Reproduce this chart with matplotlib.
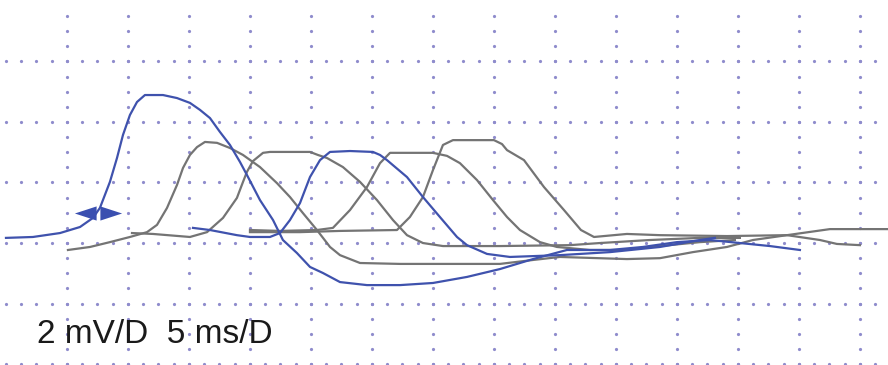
import numpy as np
import matplotlib
matplotlib.use("Agg")
import matplotlib.pyplot as plt
from matplotlib.path import Path

# ---- Data (time in ms, amplitude in mV) ----
blue_a_t = [0, 2.21, 4.43, 6.07, 7.13, 7.70, 8.52, 9.10, 9.59, 10.16, 10.74, 11.39, 12.87, 14.02,
            15.08, 15.90, 16.72, 17.54, 18.36, 19.18, 19.75, 20.82, 21.89, 22.70, 23.85, 24.92,
            25.98, 27.38, 29.59, 32.30, 35.0, 37.79, 40.49, 43.20, 45.98, 49.51, 52.21, 55.0,
            57.70, 60.16, 62.62, 65.08]
blue_a_mv = [0.17, 0.20, 0.33, 0.53, 0.83, 1.16, 2.02, 2.81, 3.57, 4.23, 4.66, 4.89, 4.89, 4.79,
             4.63, 4.40, 4.13, 3.67, 3.24, 2.68, 2.25, 1.42, 0.76, 0.10, -0.33, -0.79,
             -0.99, -1.29, -1.39, -1.39, -1.32, -1.12, -0.86, -0.53, -0.23, -0.23, -0.13, 0.03,
             0.10, 0.0, -0.10, -0.23]

blue_b_t = [15.33, 16.72, 18.93, 20.0, 21.64, 22.46, 23.28, 24.10, 24.92, 25.74, 26.56, 28.20, 30.08,
            30.66, 31.23, 32.87, 34.18, 35.57, 36.97, 37.79, 39.43, 41.31, 45.41, 49.51, 53.61,
            56.89, 58.11]
blue_b_mv = [0.50, 0.43, 0.26, 0.20, 0.20, 0.33, 0.76, 1.32, 2.18, 2.74, 3.01, 3.04, 3.01,
             2.91, 2.74, 2.18, 1.52, 0.86, 0.20, -0.07, -0.36, -0.46, -0.40, -0.30, -0.13,
             0.10, 0.17]

grey1_t = [5.08, 6.89, 8.52, 10.16, 11.56, 12.38, 13.20, 14.02, 14.51, 15.08, 15.66, 16.31, 17.30,
           18.36, 19.43, 20.82, 22.21, 23.28, 24.34, 25.49, 26.56, 27.38, 29.02, 32.30, 35.82,
           40.49, 43.20, 45.41, 50.90, 53.61, 56.31, 59.10, 61.23, 64.02, 67.54, 72.30]
grey1_mv = [-0.23, -0.13, 0.03, 0.20, 0.36, 0.60, 1.16, 1.92, 2.48, 2.91, 3.17, 3.34, 3.31,
            3.14, 2.91, 2.51, 1.98, 1.52, 0.99, 0.43, -0.13, -0.40, -0.66, -0.69, -0.69,
            -0.69, -0.56, -0.46, -0.53, -0.50, -0.30, -0.13, 0.10, 0.26, 0.46, 0.46]

grey2_t = [10.33, 12.05, 15.08, 16.48, 17.79, 18.93, 19.43, 19.75, 20.25, 21.07, 21.64, 24.92,
           25.57, 26.31, 27.62, 29.02, 30.41, 31.72, 32.87, 34.18, 35.82, 40.49, 46.23, 48.69,
           52.79, 56.89, 60.16]
grey2_mv = [0.33, 0.30, 0.20, 0.36, 0.83, 1.49, 2.02, 2.35, 2.71, 2.98, 3.01, 3.01,
            2.91, 2.81, 2.51, 2.02, 1.42, 0.76, 0.26, 0.0, -0.10, -0.10, -0.07, 0.0,
            0.10, 0.17, 0.17]

grey3_t = [20.0, 22.46, 25.49, 26.80, 28.20, 29.59, 30.66, 31.48, 35.0, 36.15, 37.21, 38.61,
           39.92, 41.07, 42.13, 43.77, 45.16, 47.87, 50.33, 53.61, 56.89, 59.75]
grey3_mv = [0.43, 0.40, 0.43, 0.50, 1.09, 1.85, 2.64, 2.98, 2.98, 2.88, 2.64, 2.08,
            1.42, 0.86, 0.43, 0.03, -0.13, -0.23, -0.23, -0.10, 0.03, 0.10]

grey4_t = [20.0, 24.10, 27.38, 32.05, 33.11, 34.18, 35.0, 35.82, 36.64, 40.0, 40.66, 41.07,
           42.46, 44.10, 45.74, 47.13, 48.20, 50.90, 53.61, 59.10, 64.02, 66.72, 68.11, 70.0]
grey4_mv = [0.36, 0.36, 0.40, 0.43, 0.86, 1.52, 2.41, 3.24, 3.40, 3.40, 3.27, 3.07,
            2.74, 1.85, 1.09, 0.43, 0.20, 0.30, 0.26, 0.23, 0.26, 0.10, -0.03, -0.07]

cursor_t = 7.54
cursor_mv = 0.99

scale_label = "2 mV/D  5 ms/D"
ms_per_div = 5
mv_per_div = 2

# ---- Figure ----
fig = plt.figure(figsize=(8.88, 3.65), dpi=100)
ax = fig.add_axes([0, 0, 1, 1])
ax.set_xlim(-0.49, 72.30)
ax.set_ylim(-4.03, 8.03)
ax.axis("off")

dot_c = "#8f8ccc"
# vertical dotted lines (quarter-division dots)
vv = np.arange(-4, 7.6, mv_per_div / 4)
for t in np.arange(ms_per_div, 72, ms_per_div):
    ax.plot(np.full(len(vv), t), vv, ls="none", marker="o", ms=2.3, mec="none",
            color=dot_c, zorder=1)
# horizontal dotted rows
tt = np.arange(0, 72.4, ms_per_div / 4)
for v in np.arange(-4, 7, mv_per_div):
    ax.plot(tt, np.full(len(tt), v), ls="none", marker="o", ms=2.3, mec="none",
            color=dot_c, zorder=1)

grey = "#747474"
blue = "#3f52ad"
lw = 1.6
for t, v in [(grey1_t, grey1_mv), (grey2_t, grey2_mv), (grey3_t, grey3_mv), (grey4_t, grey4_mv)]:
    ax.plot(t, v, color=grey, lw=lw, zorder=3, solid_joinstyle="round")
ax.plot(blue_b_t, blue_b_mv, color=blue, lw=lw, zorder=4, solid_joinstyle="round")
ax.plot(blue_a_t, blue_a_mv, color=blue, lw=lw, zorder=5, solid_joinstyle="round")

# double-arrow cursor marker
verts = [(-1.0, 0.0), (-0.08, 0.3), (-0.08, -0.3), (-1.0, 0.0),
         (1.0, 0.0), (0.08, 0.3), (0.08, -0.3), (1.0, 0.0)]
codes = [Path.MOVETO, Path.LINETO, Path.LINETO, Path.CLOSEPOLY,
         Path.MOVETO, Path.LINETO, Path.LINETO, Path.CLOSEPOLY]
arrow_marker = Path(verts, codes)
ax.plot([cursor_t], [cursor_mv], ls="none", marker=arrow_marker, ms=34,
        color="#3a4fb0", mec="none", zorder=6)

ax.text(2.54, -3.31, scale_label, fontsize=24, family=["Liberation Sans", "DejaVu Sans"],
        color="#1a1a1a", va="baseline", ha="left", zorder=7)

fig.savefig("out.png", dpi=100)
